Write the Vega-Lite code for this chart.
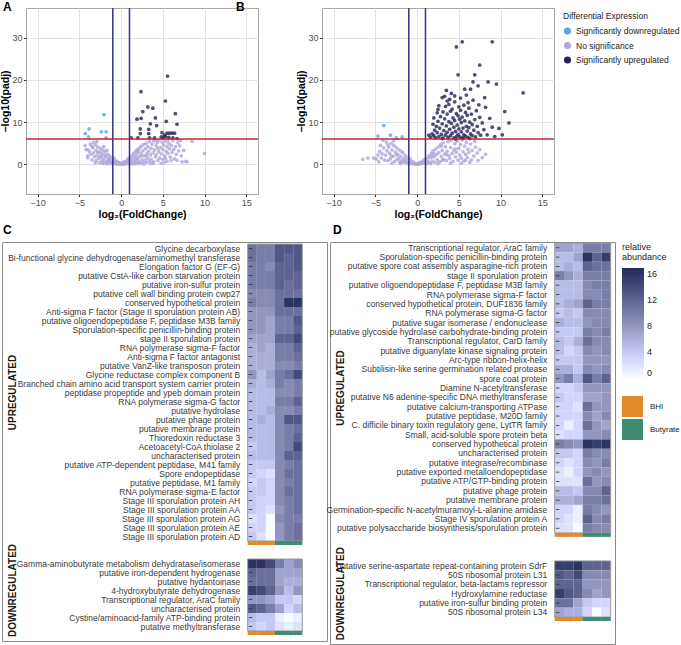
{
"$schema": "https://vega.github.io/schema/vega-lite/v6.json",
"background": "white",
"padding": {"left": 0, "top": 0, "right": 0, "bottom": 0},
"config": {
 "font": "Liberation Sans",
 "title": {"fontSize": 12, "fontWeight": "bold", "anchor": "start", "frame": "group", "offset": 4, "color": "#000"},
 "axis": {"labelFontSize": 9, "labelColor": "#4d4d4d", "titleFontSize": 10.5, "titleFontWeight": "bold", "titleColor": "#000", "tickColor": "#333", "tickSize": 3, "domain": false, "labelPadding": 2, "labelOverlap": false},
 "legend": {"titleFontWeight": "normal", "titleColor": "#222", "labelColor": "#222"}
},
"datasets": {
 "volA": [
  {"x":-0.9,"y":1.2,"g":"n"},{"x":-0.8,"y":0.5,"g":"n"},{"x":-0.7,"y":0.9,"g":"n"},{"x":-0.6,"y":0.3,"g":"n"},{"x":-0.5,"y":0.7,"g":"n"},{"x":-0.4,"y":0.2,"g":"n"},{"x":-0.3,"y":0.4,"g":"n"},{"x":-0.2,"y":0.1,"g":"n"},{"x":-0.1,"y":0.3,"g":"n"},{"x":0,"y":0.05,"g":"n"},{"x":0.1,"y":0.2,"g":"n"},{"x":0.2,"y":0.4,"g":"n"},{"x":0.3,"y":0.1,"g":"n"},{"x":0.4,"y":0.6,"g":"n"},{"x":0.5,"y":0.3,"g":"n"},{"x":0.6,"y":0.8,"g":"n"},{"x":0.7,"y":0.4,"g":"n"},{"x":0.8,"y":1.1,"g":"n"},{"x":0.9,"y":0.6,"g":"n"},{"x":-0.95,"y":0.2,"g":"n"},{"x":0.95,"y":0.15,"g":"n"},{"x":-0.55,"y":0.05,"g":"n"},{"x":0.55,"y":0.1,"g":"n"},{"x":0.25,"y":0.05,"g":"n"},{"x":-0.25,"y":0.08,"g":"n"},{"x":0.85,"y":1.4,"g":"n"},{"x":-0.85,"y":1.5,"g":"n"},
  {"x":-1.1,"y":0.4,"g":"n"},{"x":-1.2,"y":1.6,"g":"n"},{"x":-1.3,"y":0.9,"g":"n"},{"x":-1.4,"y":2.0,"g":"n"},{"x":-1.5,"y":0.3,"g":"n"},{"x":-1.5,"y":1.3,"g":"n"},{"x":-1.6,"y":2.4,"g":"n"},{"x":-1.7,"y":0.7,"g":"n"},{"x":-1.8,"y":1.8,"g":"n"},{"x":-1.9,"y":3.0,"g":"n"},{"x":-2.0,"y":0.5,"g":"n"},{"x":-2.0,"y":2.2,"g":"n"},{"x":-2.1,"y":1.2,"g":"n"},{"x":-2.2,"y":3.4,"g":"n"},{"x":-2.3,"y":0.8,"g":"n"},{"x":-2.3,"y":2.6,"g":"n"},{"x":-2.4,"y":1.7,"g":"n"},{"x":-2.5,"y":3.8,"g":"n"},{"x":-2.6,"y":0.4,"g":"n"},{"x":-2.6,"y":2.9,"g":"n"},{"x":-2.7,"y":1.4,"g":"n"},{"x":-2.8,"y":4.1,"g":"n"},{"x":-2.9,"y":2.1,"g":"n"},{"x":-3.0,"y":0.9,"g":"n"},{"x":-3.0,"y":3.3,"g":"n"},{"x":-3.1,"y":4.6,"g":"n"},{"x":-3.2,"y":1.8,"g":"n"},{"x":-3.3,"y":2.7,"g":"n"},{"x":-3.4,"y":3.9,"g":"n"},{"x":-3.5,"y":1.1,"g":"n"},{"x":-3.6,"y":2.4,"g":"n"},{"x":-3.7,"y":4.8,"g":"n"},{"x":-3.8,"y":3.0,"g":"n"},{"x":-4.0,"y":1.6,"g":"n"},{"x":-4.0,"y":3.5,"g":"n"},{"x":-4.2,"y":3.5,"g":"n"},{"x":-4.0,"y":2.0,"g":"n"},{"x":-3.1,"y":0.4,"g":"n"},{"x":-4.3,"y":4.5,"g":"n"},{"x":-1.25,"y":0.2,"g":"n"},{"x":-1.75,"y":0.15,"g":"n"},{"x":-2.2,"y":0.25,"g":"n"},{"x":-1.35,"y":1.1,"g":"n"},{"x":-1.6,"y":0.9,"g":"n"},{"x":-1.9,"y":2.0,"g":"n"},{"x":-2.45,"y":2.0,"g":"n"},{"x":-2.8,"y":2.8,"g":"n"},{"x":-3.3,"y":5.2,"g":"n"},{"x":-2.1,"y":4.2,"g":"n"},{"x":-1.7,"y":3.3,"g":"n"},{"x":-2.9,"y":5.4,"g":"n"},{"x":-3.5,"y":4.3,"g":"n"},
  {"x":1.1,"y":0.3,"g":"n"},{"x":1.1,"y":1.6,"g":"n"},{"x":1.2,"y":0.8,"g":"n"},{"x":1.3,"y":2.1,"g":"n"},{"x":1.3,"y":0.2,"g":"n"},{"x":1.4,"y":1.2,"g":"n"},{"x":1.5,"y":2.6,"g":"n"},{"x":1.5,"y":0.5,"g":"n"},{"x":1.6,"y":1.8,"g":"n"},{"x":1.7,"y":3.0,"g":"n"},{"x":1.7,"y":0.9,"g":"n"},{"x":1.8,"y":2.2,"g":"n"},{"x":1.9,"y":0.4,"g":"n"},{"x":1.9,"y":3.5,"g":"n"},{"x":2.0,"y":1.4,"g":"n"},{"x":2.0,"y":2.8,"g":"n"},{"x":2.1,"y":0.7,"g":"n"},{"x":2.2,"y":3.9,"g":"n"},{"x":2.2,"y":1.9,"g":"n"},{"x":2.3,"y":0.3,"g":"n"},{"x":2.4,"y":2.5,"g":"n"},{"x":2.4,"y":4.3,"g":"n"},{"x":2.5,"y":1.1,"g":"n"},{"x":2.6,"y":3.2,"g":"n"},{"x":2.6,"y":0.6,"g":"n"},{"x":2.7,"y":4.7,"g":"n"},{"x":2.8,"y":2.0,"g":"n"},{"x":2.9,"y":1.0,"g":"n"},{"x":2.9,"y":3.7,"g":"n"},{"x":3.0,"y":5.0,"g":"n"},{"x":3.0,"y":0.4,"g":"n"},{"x":3.1,"y":2.6,"g":"n"},{"x":3.2,"y":1.5,"g":"n"},{"x":3.2,"y":4.2,"g":"n"},{"x":3.3,"y":3.1,"g":"n"},{"x":3.4,"y":5.4,"g":"n"},{"x":3.4,"y":0.8,"g":"n"},{"x":3.5,"y":2.2,"g":"n"},{"x":3.6,"y":3.8,"g":"n"},{"x":3.6,"y":1.2,"g":"n"},{"x":3.7,"y":4.8,"g":"n"},{"x":3.8,"y":2.7,"g":"n"},{"x":3.9,"y":0.6,"g":"n"},{"x":3.9,"y":5.6,"g":"n"},{"x":4.0,"y":3.4,"g":"n"},{"x":4.1,"y":1.8,"g":"n"},{"x":4.2,"y":4.4,"g":"n"},{"x":4.2,"y":2.3,"g":"n"},{"x":4.3,"y":5.2,"g":"n"},{"x":4.4,"y":0.9,"g":"n"},{"x":4.5,"y":3.0,"g":"n"},{"x":4.5,"y":5.7,"g":"n"},{"x":4.6,"y":1.5,"g":"n"},{"x":4.7,"y":4.0,"g":"n"},{"x":4.8,"y":2.5,"g":"n"},{"x":4.9,"y":5.3,"g":"n"},{"x":5.0,"y":3.5,"g":"n"},{"x":5.0,"y":1.2,"g":"n"},{"x":5.1,"y":4.6,"g":"n"},{"x":5.2,"y":2.0,"g":"n"},{"x":5.3,"y":5.5,"g":"n"},{"x":5.4,"y":3.1,"g":"n"},{"x":5.5,"y":0.8,"g":"n"},{"x":5.5,"y":4.2,"g":"n"},{"x":5.6,"y":2.6,"g":"n"},{"x":5.7,"y":5.0,"g":"n"},{"x":5.8,"y":3.7,"g":"n"},{"x":5.9,"y":1.7,"g":"n"},{"x":6.0,"y":4.5,"g":"n"},{"x":6.1,"y":2.9,"g":"n"},{"x":6.2,"y":5.6,"g":"n"},{"x":6.3,"y":3.5,"g":"n"},{"x":6.4,"y":1.3,"g":"n"},{"x":6.5,"y":4.2,"g":"n"},{"x":6.6,"y":2.4,"g":"n"},{"x":6.8,"y":5.1,"g":"n"},{"x":6.9,"y":3.2,"g":"n"},{"x":7.0,"y":4.4,"g":"n"},{"x":7.2,"y":2.0,"g":"n"},{"x":7.3,"y":0.6,"g":"n"},{"x":7.5,"y":3.3,"g":"n"},{"x":7.9,"y":0.6,"g":"n"},{"x":8.5,"y":5.5,"g":"n"},{"x":10.0,"y":2.6,"g":"n"},{"x":7.7,"y":0.7,"g":"n"},{"x":6.0,"y":0.9,"g":"n"},{"x":5.2,"y":0.5,"g":"n"},{"x":3.5,"y":0.2,"g":"n"},{"x":2.7,"y":0.1,"g":"n"},{"x":4.8,"y":0.3,"g":"n"},{"x":1.6,"y":0.1,"g":"n"},{"x":2.0,"y":0.2,"g":"n"},{"x":6.7,"y":1.0,"g":"n"},{"x":7.1,"y":5.6,"g":"n"},{"x":5.6,"y":5.8,"g":"n"},{"x":4.1,"y":5.9,"g":"n"},{"x":3.0,"y":2.1,"g":"n"},{"x":2.5,"y":2.0,"g":"n"},{"x":1.8,"y":1.3,"g":"n"},{"x":2.1,"y":3.2,"g":"n"},{"x":3.8,"y":0.3,"g":"n"},{"x":4.4,"y":3.8,"g":"n"},{"x":5.3,"y":1.5,"g":"n"},
  {"x":-2.06,"y":11.8,"g":"d"},{"x":-3.85,"y":8.4,"g":"d"},{"x":-2.38,"y":7.7,"g":"d"},{"x":-1.8,"y":7.7,"g":"d"},{"x":-4.3,"y":7.3,"g":"d"},{"x":-3.9,"y":6.5,"g":"d"},{"x":-1.8,"y":6.3,"g":"d"},
  {"x":5.56,"y":20.9,"g":"u"},{"x":2.38,"y":17.2,"g":"u"},{"x":5.3,"y":15.0,"g":"u"},{"x":3.2,"y":13.6,"g":"u"},{"x":3.8,"y":13.3,"g":"u"},{"x":2.6,"y":12.5,"g":"u"},{"x":6.5,"y":12.0,"g":"u"},{"x":4.1,"y":11.0,"g":"u"},{"x":1.9,"y":10.7,"g":"u"},{"x":2.4,"y":10.9,"g":"u"},{"x":5.4,"y":10.2,"g":"u"},{"x":3.5,"y":9.6,"g":"u"},{"x":6.7,"y":9.5,"g":"u"},{"x":4.25,"y":9.2,"g":"u"},{"x":2.3,"y":8.4,"g":"u"},{"x":3.3,"y":8.3,"g":"u"},{"x":4.9,"y":7.5,"g":"u"},{"x":5.5,"y":7.4,"g":"u"},{"x":5.8,"y":7.4,"g":"u"},{"x":6.1,"y":7.4,"g":"u"},{"x":6.4,"y":7.4,"g":"u"},{"x":3.3,"y":7.3,"g":"u"},{"x":2.3,"y":7.3,"g":"u"},{"x":1.2,"y":6.3,"g":"u"},{"x":2.0,"y":6.3,"g":"u"},{"x":3.4,"y":6.3,"g":"u"},{"x":4.0,"y":6.3,"g":"u"},{"x":4.8,"y":6.5,"g":"u"},{"x":5.3,"y":6.6,"g":"u"},{"x":5.7,"y":6.4,"g":"u"},{"x":6.2,"y":6.3,"g":"u"},{"x":6.7,"y":6.1,"g":"u"},{"x":5.2,"y":6.9,"g":"u"},{"x":5.0,"y":6.2,"g":"u"}
 ],
 "volB": [
  {"x":-0.9,"y":1.1,"g":"n"},{"x":-0.8,"y":0.4,"g":"n"},{"x":-0.7,"y":0.8,"g":"n"},{"x":-0.6,"y":0.2,"g":"n"},{"x":-0.5,"y":0.6,"g":"n"},{"x":-0.4,"y":0.3,"g":"n"},{"x":-0.3,"y":0.1,"g":"n"},{"x":-0.2,"y":0.2,"g":"n"},{"x":-0.1,"y":0.05,"g":"n"},{"x":0,"y":0.1,"g":"n"},{"x":0.1,"y":0.05,"g":"n"},{"x":0.2,"y":0.3,"g":"n"},{"x":0.3,"y":0.15,"g":"n"},{"x":0.4,"y":0.5,"g":"n"},{"x":0.5,"y":0.2,"g":"n"},{"x":0.6,"y":0.7,"g":"n"},{"x":0.7,"y":0.3,"g":"n"},{"x":0.8,"y":1.0,"g":"n"},{"x":0.9,"y":0.5,"g":"n"},{"x":-0.95,"y":0.15,"g":"n"},{"x":0.95,"y":1.3,"g":"n"},{"x":-0.85,"y":1.4,"g":"n"},
  {"x":-1.1,"y":0.3,"g":"n"},{"x":-1.2,"y":1.5,"g":"n"},{"x":-1.3,"y":0.8,"g":"n"},{"x":-1.4,"y":2.1,"g":"n"},{"x":-1.5,"y":0.4,"g":"n"},{"x":-1.6,"y":1.4,"g":"n"},{"x":-1.7,"y":2.7,"g":"n"},{"x":-1.8,"y":0.9,"g":"n"},{"x":-1.9,"y":3.1,"g":"n"},{"x":-2.0,"y":1.9,"g":"n"},{"x":-2.1,"y":0.6,"g":"n"},{"x":-2.2,"y":3.5,"g":"n"},{"x":-2.3,"y":2.4,"g":"n"},{"x":-2.4,"y":1.2,"g":"n"},{"x":-2.5,"y":4.0,"g":"n"},{"x":-2.6,"y":2.9,"g":"n"},{"x":-2.7,"y":0.7,"g":"n"},{"x":-2.8,"y":4.5,"g":"n"},{"x":-2.9,"y":1.9,"g":"n"},{"x":-3.0,"y":3.4,"g":"n"},{"x":-3.1,"y":5.0,"g":"n"},{"x":-3.2,"y":1.3,"g":"n"},{"x":-3.3,"y":2.6,"g":"n"},{"x":-3.4,"y":4.1,"g":"n"},{"x":-3.5,"y":0.9,"g":"n"},{"x":-3.6,"y":3.2,"g":"n"},{"x":-3.7,"y":5.3,"g":"n"},{"x":-3.8,"y":2.2,"g":"n"},{"x":-3.9,"y":1.0,"g":"n"},{"x":-4.0,"y":3.9,"g":"n"},{"x":-4.1,"y":5.7,"g":"n"},{"x":-4.2,"y":2.5,"g":"n"},{"x":-4.3,"y":1.5,"g":"n"},{"x":-4.5,"y":3.1,"g":"n"},{"x":-4.7,"y":2.2,"g":"n"},{"x":-4.9,"y":1.3,"g":"n"},{"x":-5.2,"y":1.5,"g":"n"},{"x":-5.9,"y":1.5,"g":"n"},{"x":-6.5,"y":1.2,"g":"n"},{"x":-4.6,"y":0.6,"g":"n"},{"x":-2.0,"y":0.2,"g":"n"},{"x":-3.0,"y":0.3,"g":"n"},{"x":-1.5,"y":1.0,"g":"n"},{"x":-2.5,"y":2.2,"g":"n"},{"x":-3.5,"y":4.6,"g":"n"},{"x":-2.8,"y":5.6,"g":"n"},{"x":-4.4,"y":4.5,"g":"n"},{"x":-1.9,"y":0.5,"g":"n"},{"x":-2.2,"y":1.4,"g":"n"},{"x":-3.1,"y":2.0,"g":"n"},
  {"x":1.1,"y":0.2,"g":"n"},{"x":1.2,"y":1.4,"g":"n"},{"x":1.3,"y":0.7,"g":"n"},{"x":1.4,"y":2.0,"g":"n"},{"x":1.5,"y":0.4,"g":"n"},{"x":1.6,"y":1.6,"g":"n"},{"x":1.7,"y":2.6,"g":"n"},{"x":1.8,"y":0.8,"g":"n"},{"x":1.9,"y":3.2,"g":"n"},{"x":2.0,"y":1.8,"g":"n"},{"x":2.1,"y":0.5,"g":"n"},{"x":2.2,"y":3.6,"g":"n"},{"x":2.3,"y":2.3,"g":"n"},{"x":2.4,"y":1.1,"g":"n"},{"x":2.5,"y":4.1,"g":"n"},{"x":2.6,"y":2.8,"g":"n"},{"x":2.7,"y":0.6,"g":"n"},{"x":2.8,"y":4.6,"g":"n"},{"x":2.9,"y":1.9,"g":"n"},{"x":3.0,"y":3.3,"g":"n"},{"x":3.1,"y":5.1,"g":"n"},{"x":3.2,"y":1.2,"g":"n"},{"x":3.3,"y":2.5,"g":"n"},{"x":3.4,"y":4.2,"g":"n"},{"x":3.5,"y":0.9,"g":"n"},{"x":3.6,"y":3.1,"g":"n"},{"x":3.7,"y":5.4,"g":"n"},{"x":3.8,"y":2.1,"g":"n"},{"x":3.9,"y":1.4,"g":"n"},{"x":4.0,"y":4.0,"g":"n"},{"x":4.1,"y":5.7,"g":"n"},{"x":4.2,"y":2.6,"g":"n"},{"x":4.3,"y":0.7,"g":"n"},{"x":4.4,"y":3.4,"g":"n"},{"x":4.5,"y":4.9,"g":"n"},{"x":4.6,"y":1.8,"g":"n"},{"x":4.7,"y":2.9,"g":"n"},{"x":4.8,"y":5.5,"g":"n"},{"x":4.9,"y":1.0,"g":"n"},{"x":5.0,"y":3.8,"g":"n"},{"x":5.1,"y":2.2,"g":"n"},{"x":5.2,"y":4.7,"g":"n"},{"x":5.3,"y":1.5,"g":"n"},{"x":5.4,"y":5.8,"g":"n"},{"x":5.5,"y":3.0,"g":"n"},{"x":5.6,"y":0.8,"g":"n"},{"x":5.7,"y":4.3,"g":"n"},{"x":5.8,"y":2.4,"g":"n"},{"x":5.9,"y":5.2,"g":"n"},{"x":6.0,"y":1.6,"g":"n"},{"x":6.1,"y":3.6,"g":"n"},{"x":6.2,"y":2.8,"g":"n"},{"x":6.4,"y":4.8,"g":"n"},{"x":6.5,"y":1.1,"g":"n"},{"x":6.6,"y":3.3,"g":"n"},{"x":6.8,"y":2.0,"g":"n"},{"x":7.0,"y":4.1,"g":"n"},{"x":7.2,"y":2.7,"g":"n"},{"x":7.5,"y":3.5,"g":"n"},{"x":7.8,"y":1.6,"g":"n"},{"x":8.2,"y":2.4,"g":"n"},{"x":6.9,"y":5.5,"g":"n"},{"x":5.3,"y":0.3,"g":"n"},{"x":4.0,"y":0.3,"g":"n"},{"x":2.5,"y":0.2,"g":"n"},{"x":3.5,"y":2.3,"g":"n"},{"x":2.0,"y":2.6,"g":"n"},{"x":1.6,"y":0.2,"g":"n"},{"x":3.0,"y":1.0,"g":"n"},{"x":4.6,"y":3.7,"g":"n"},{"x":5.8,"y":1.0,"g":"n"},{"x":7.3,"y":0.9,"g":"n"},{"x":6.3,"y":0.5,"g":"n"},{"x":2.9,"y":4.3,"g":"n"},{"x":3.8,"y":5.9,"g":"n"},{"x":1.8,"y":2.0,"g":"n"},
  {"x":-4.0,"y":9.2,"g":"d"},{"x":-4.7,"y":6.7,"g":"d"},{"x":-3.2,"y":6.9,"g":"d"},{"x":-2.5,"y":6.3,"g":"d"},{"x":-1.8,"y":6.5,"g":"d"},
  {"x":5.4,"y":29.0,"g":"u"},{"x":9.0,"y":29.0,"g":"u"},{"x":4.7,"y":27.8,"g":"u"},{"x":7.5,"y":23.5,"g":"u"},{"x":4.9,"y":21.2,"g":"u"},{"x":6.9,"y":21.2,"g":"u"},{"x":6.7,"y":19.5,"g":"u"},{"x":8.5,"y":19.5,"g":"u"},{"x":9.5,"y":19.0,"g":"u"},{"x":7.3,"y":18.6,"g":"u"},{"x":6.4,"y":17.8,"g":"u"},{"x":5.7,"y":17.8,"g":"u"},{"x":3.5,"y":17.5,"g":"u"},{"x":12.7,"y":16.9,"g":"u"},{"x":4.5,"y":16.2,"g":"u"},{"x":8.1,"y":15.8,"g":"u"},{"x":3.0,"y":15.8,"g":"u"},{"x":3.6,"y":15.0,"g":"u"},{"x":2.5,"y":13.0,"g":"u"},{"x":10.5,"y":12.5,"g":"u"},{"x":11.0,"y":9.8,"g":"u"},{"x":9.8,"y":8.5,"g":"u"},{"x":10.2,"y":7.0,"g":"u"},
  {"x":1.6,"y":6.4,"g":"u"},{"x":1.8,"y":7.2,"g":"u"},{"x":2.0,"y":6.8,"g":"u"},{"x":2.1,"y":8.1,"g":"u"},{"x":2.2,"y":6.3,"g":"u"},{"x":2.3,"y":9.0,"g":"u"},{"x":2.4,"y":7.5,"g":"u"},{"x":2.5,"y":10.2,"g":"u"},{"x":2.6,"y":6.6,"g":"u"},{"x":2.7,"y":8.6,"g":"u"},{"x":2.8,"y":11.3,"g":"u"},{"x":2.9,"y":7.1,"g":"u"},{"x":3.0,"y":9.6,"g":"u"},{"x":3.1,"y":6.2,"g":"u"},{"x":3.1,"y":12.4,"g":"u"},{"x":3.2,"y":8.0,"g":"u"},{"x":3.3,"y":10.8,"g":"u"},{"x":3.4,"y":6.9,"g":"u"},{"x":3.4,"y":13.7,"g":"u"},{"x":3.5,"y":9.1,"g":"u"},{"x":3.6,"y":7.6,"g":"u"},{"x":3.6,"y":11.9,"g":"u"},{"x":3.7,"y":6.4,"g":"u"},{"x":3.8,"y":10.1,"g":"u"},{"x":3.8,"y":14.2,"g":"u"},{"x":3.9,"y":8.3,"g":"u"},{"x":4.0,"y":12.6,"g":"u"},{"x":4.0,"y":6.8,"g":"u"},{"x":4.1,"y":9.7,"g":"u"},{"x":4.2,"y":7.4,"g":"u"},{"x":4.2,"y":13.1,"g":"u"},{"x":4.3,"y":11.0,"g":"u"},{"x":4.4,"y":6.3,"g":"u"},{"x":4.4,"y":8.8,"g":"u"},{"x":4.5,"y":10.4,"g":"u"},{"x":4.5,"y":14.8,"g":"u"},{"x":4.6,"y":7.8,"g":"u"},{"x":4.7,"y":12.0,"g":"u"},{"x":4.7,"y":6.6,"g":"u"},{"x":4.8,"y":9.3,"g":"u"},{"x":4.9,"y":11.5,"g":"u"},{"x":4.9,"y":7.1,"g":"u"},{"x":5.0,"y":13.6,"g":"u"},{"x":5.0,"y":8.4,"g":"u"},{"x":5.1,"y":6.5,"g":"u"},{"x":5.1,"y":10.7,"g":"u"},{"x":5.2,"y":12.8,"g":"u"},{"x":5.3,"y":7.7,"g":"u"},{"x":5.3,"y":9.9,"g":"u"},{"x":5.4,"y":6.2,"g":"u"},{"x":5.4,"y":11.2,"g":"u"},{"x":5.5,"y":8.6,"g":"u"},{"x":5.6,"y":14.0,"g":"u"},{"x":5.6,"y":7.0,"g":"u"},{"x":5.7,"y":10.3,"g":"u"},{"x":5.8,"y":6.7,"g":"u"},{"x":5.8,"y":12.3,"g":"u"},{"x":5.9,"y":9.0,"g":"u"},{"x":6.0,"y":7.9,"g":"u"},{"x":6.0,"y":11.6,"g":"u"},{"x":6.1,"y":6.4,"g":"u"},{"x":6.2,"y":13.3,"g":"u"},{"x":6.2,"y":8.7,"g":"u"},{"x":6.3,"y":10.0,"g":"u"},{"x":6.4,"y":7.2,"g":"u"},{"x":6.5,"y":11.9,"g":"u"},{"x":6.6,"y":6.8,"g":"u"},{"x":6.6,"y":9.4,"g":"u"},{"x":6.7,"y":15.2,"g":"u"},{"x":6.8,"y":8.1,"g":"u"},{"x":6.9,"y":10.6,"g":"u"},{"x":7.0,"y":6.5,"g":"u"},{"x":7.1,"y":12.7,"g":"u"},{"x":7.2,"y":9.0,"g":"u"},{"x":7.3,"y":7.5,"g":"u"},{"x":7.5,"y":11.1,"g":"u"},{"x":7.6,"y":6.9,"g":"u"},{"x":7.8,"y":9.8,"g":"u"},{"x":8.0,"y":8.2,"g":"u"},{"x":8.2,"y":13.5,"g":"u"},{"x":8.4,"y":7.0,"g":"u"},{"x":8.7,"y":10.9,"g":"u"},{"x":9.0,"y":8.8,"g":"u"},{"x":9.3,"y":6.6,"g":"u"},{"x":2.0,"y":11.0,"g":"u"},{"x":2.6,"y":13.9,"g":"u"},{"x":3.3,"y":16.1,"g":"u"},{"x":4.1,"y":16.8,"g":"u"},{"x":5.2,"y":15.7,"g":"u"},{"x":5.9,"y":16.4,"g":"u"},{"x":6.1,"y":14.6,"g":"u"},{"x":7.4,"y":14.1,"g":"u"},{"x":1.9,"y":9.5,"g":"u"},{"x":2.4,"y":12.2,"g":"u"},{"x":1.4,"y":6.9,"g":"u"},{"x":3.0,"y":6.1,"g":"u"},{"x":4.6,"y":6.0,"g":"u"},{"x":5.5,"y":6.2,"g":"u"},{"x":6.3,"y":6.1,"g":"u"},{"x":3.9,"y":15.4,"g":"u"}
 ],
 "bars": [
  {"r":"ub","s":"a1","c":"BHI"},{"r":"ub","s":"a2","c":"BHI"},{"r":"ub","s":"a3","c":"BHI"},{"r":"ub","s":"b1","c":"Butyrate"},{"r":"ub","s":"b2","c":"Butyrate"},{"r":"ub","s":"b3","c":"Butyrate"},
  {"r":"db","s":"a1","c":"BHI"},{"r":"db","s":"a2","c":"BHI"},{"r":"db","s":"a3","c":"BHI"},{"r":"db","s":"b1","c":"Butyrate"},{"r":"db","s":"b2","c":"Butyrate"},{"r":"db","s":"b3","c":"Butyrate"}
 ],
 "lC": [
  {"r":"u01","p":"Glycine decarboxylase"},{"r":"u02","p":"Bi-functional glycine dehydrogenase/aminomethyl transferase"},{"r":"u03","p":"Elongation factor G (EF-G)"},{"r":"u04","p":"putative CstA-like carbon starvation protein"},{"r":"u05","p":"putative iron-sulfur protein"},{"r":"u06","p":"putative cell wall binding protein cwp27"},{"r":"u07","p":"conserved hypothetical protein"},{"r":"u08","p":"Anti-sigma F factor (Stage II sporulation protein AB)"},{"r":"u09","p":"putative oligoendopeptidase F, peptidase M3B family"},{"r":"u10","p":"Sporulation-specific penicillin-binding protein"},{"r":"u11","p":"stage II sporulation protein"},{"r":"u12","p":"RNA polymerase sigma-F factor"},{"r":"u13","p":"Anti-sigma F factor antagonist"},{"r":"u14","p":"putative VanZ-like transposon protein"},{"r":"u15","p":"Glycine reductase complex component B"},{"r":"u16","p":"Branched chain amino acid transport system carrier protein"},{"r":"u17","p":"peptidase propeptide and ypeb domain protein"},{"r":"u18","p":"RNA polymerase sigma-G factor"},{"r":"u19","p":"putative hydrolase"},{"r":"u20","p":"putative phage protein"},{"r":"u21","p":"putative membrane protein"},{"r":"u22","p":"Thioredoxin reductase 3"},{"r":"u23","p":"Acetoacetyl-CoA thiolase 2"},{"r":"u24","p":"uncharacterised protein"},{"r":"u25","p":"putative ATP-dependent peptidase, M41 family"},{"r":"u26","p":"Spore endopeptidase"},{"r":"u27","p":"putative peptidase, M1 family"},{"r":"u28","p":"RNA polymerase sigma-E factor"},{"r":"u29","p":"Stage III sporulation protein AH"},{"r":"u30","p":"Stage III sporulation protein AA"},{"r":"u31","p":"Stage III sporulation protein AG"},{"r":"u32","p":"Stage III sporulation protein AE"},{"r":"u33","p":"Stage III sporulation protein AD"},
  {"r":"d01","p":"Gamma-aminobutyrate metabolism dehydratase/isomerase"},{"r":"d02","p":"putative iron-dependent hydrogenase"},{"r":"d03","p":"putative hydantoinase"},{"r":"d04","p":"4-hydroxybutyrate dehydrogenase"},{"r":"d05","p":"Transcriptional regulator, AraC family"},{"r":"d06","p":"uncharacterised protein"},{"r":"d07","p":"Cystine/aminoacid-family ATP-binding protein"},{"r":"d08","p":"putative methyltransferase"}
 ],
 "lD": [
  {"r":"u01","p":"Transcriptional regulator, AraC family"},{"r":"u02","p":"Sporulation-specific penicillin-binding protein"},{"r":"u03","p":"putative spore coat assembly asparagine-rich protein"},{"r":"u04","p":"stage II sporulation protein"},{"r":"u05","p":"putative oligoendopeptidase F, peptidase M3B family"},{"r":"u06","p":"RNA polymerase sigma-F factor"},{"r":"u07","p":"conserved hypothetical protein, DUF1836 family"},{"r":"u08","p":"RNA polymerase sigma-G factor"},{"r":"u09","p":"putative sugar isomerase / endonuclease"},{"r":"u10","p":"putative glycoside hydrolase carbohydrate-binding protein"},{"r":"u11","p":"Transcriptional regulator, CarD family"},{"r":"u12","p":"putative diguanylate kinase signaling protein"},{"r":"u13","p":"Arc-type ribbon-helix-helix"},{"r":"u14","p":"Subtilisin-like serine germination related protease"},{"r":"u15","p":"spore coat protein"},{"r":"u16","p":"Diamine N-acetyltransferase"},{"r":"u17","p":"putative N6 adenine-specific DNA methyltransferase"},{"r":"u18","p":"putative calcium-transporting ATPase"},{"r":"u19","p":"putative peptidase, M20D family"},{"r":"u20","p":"C. difficile binary toxin regulatory gene, LytTR family"},{"r":"u21","p":"Small, acid-soluble spore protein beta"},{"r":"u22","p":"conserved hypothetical protein"},{"r":"u23","p":"uncharacterised protein"},{"r":"u24","p":"putative integrase/recombinase"},{"r":"u25","p":"putative exported metalloendopeptidase"},{"r":"u26","p":"putative ATP/GTP-binding protein"},{"r":"u27","p":"putative phage protein"},{"r":"u28","p":"putative membrane protein"},{"r":"u29","p":"Germination-specific N-acetylmuramoyl-L-alanine amidase"},{"r":"u30","p":"Stage IV sporulation protein A"},{"r":"u31","p":"putative polysaccharide biosynthesis/sporulation protein"},
  {"r":"d01","p":"putative serine-aspartate repeat-containing protein SdrF"},{"r":"d02","p":"50S ribosomal protein L31"},{"r":"d03","p":"Transcriptional regulator, beta-lactams repressor"},{"r":"d04","p":"Hydroxylamine reductase"},{"r":"d05","p":"putative iron-sulfur binding protein"},{"r":"d06","p":"50S ribosomal protein L34"}
 ],
 "hC": [
  {"r":"u01","s":"a1","v":11},{"r":"u01","s":"a2","v":10},{"r":"u01","s":"a3","v":10},{"r":"u01","s":"b1","v":13},{"r":"u01","s":"b2","v":13},{"r":"u01","s":"b3","v":13},
  {"r":"u02","s":"a1","v":11},{"r":"u02","s":"a2","v":10},{"r":"u02","s":"a3","v":10},{"r":"u02","s":"b1","v":13},{"r":"u02","s":"b2","v":12},{"r":"u02","s":"b3","v":13},
  {"r":"u03","s":"a1","v":10},{"r":"u03","s":"a2","v":10},{"r":"u03","s":"a3","v":9},{"r":"u03","s":"b1","v":12},{"r":"u03","s":"b2","v":12},{"r":"u03","s":"b3","v":13},
  {"r":"u04","s":"a1","v":10},{"r":"u04","s":"a2","v":10},{"r":"u04","s":"a3","v":10},{"r":"u04","s":"b1","v":12},{"r":"u04","s":"b2","v":12},{"r":"u04","s":"b3","v":12},
  {"r":"u05","s":"a1","v":10},{"r":"u05","s":"a2","v":10},{"r":"u05","s":"a3","v":10},{"r":"u05","s":"b1","v":12},{"r":"u05","s":"b2","v":11},{"r":"u05","s":"b3","v":12},
  {"r":"u06","s":"a1","v":9},{"r":"u06","s":"a2","v":9},{"r":"u06","s":"a3","v":9},{"r":"u06","s":"b1","v":11},{"r":"u06","s":"b2","v":11},{"r":"u06","s":"b3","v":11},
  {"r":"u07","s":"a1","v":10},{"r":"u07","s":"a2","v":9},{"r":"u07","s":"a3","v":9},{"r":"u07","s":"b1","v":11},{"r":"u07","s":"b2","v":16},{"r":"u07","s":"b3","v":16},
  {"r":"u08","s":"a1","v":8},{"r":"u08","s":"a2","v":8},{"r":"u08","s":"a3","v":8},{"r":"u08","s":"b1","v":11},{"r":"u08","s":"b2","v":11},{"r":"u08","s":"b3","v":11},
  {"r":"u09","s":"a1","v":8},{"r":"u09","s":"a2","v":8},{"r":"u09","s":"a3","v":7},{"r":"u09","s":"b1","v":10},{"r":"u09","s":"b2","v":10},{"r":"u09","s":"b3","v":13},
  {"r":"u10","s":"a1","v":8},{"r":"u10","s":"a2","v":8},{"r":"u10","s":"a3","v":7},{"r":"u10","s":"b1","v":10},{"r":"u10","s":"b2","v":10},{"r":"u10","s":"b3","v":12},
  {"r":"u11","s":"a1","v":7},{"r":"u11","s":"a2","v":7},{"r":"u11","s":"a3","v":7},{"r":"u11","s":"b1","v":12},{"r":"u11","s":"b2","v":12},{"r":"u11","s":"b3","v":14},
  {"r":"u12","s":"a1","v":6},{"r":"u12","s":"a2","v":7},{"r":"u12","s":"a3","v":6},{"r":"u12","s":"b1","v":10},{"r":"u12","s":"b2","v":10},{"r":"u12","s":"b3","v":12},
  {"r":"u13","s":"a1","v":6},{"r":"u13","s":"a2","v":6},{"r":"u13","s":"a3","v":6},{"r":"u13","s":"b1","v":10},{"r":"u13","s":"b2","v":10},{"r":"u13","s":"b3","v":11},
  {"r":"u14","s":"a1","v":6},{"r":"u14","s":"a2","v":6},{"r":"u14","s":"a3","v":6},{"r":"u14","s":"b1","v":9},{"r":"u14","s":"b2","v":9},{"r":"u14","s":"b3","v":10},
  {"r":"u15","s":"a1","v":8},{"r":"u15","s":"a2","v":5},{"r":"u15","s":"a3","v":7},{"r":"u15","s":"b1","v":10},{"r":"u15","s":"b2","v":11},{"r":"u15","s":"b3","v":14},
  {"r":"u16","s":"a1","v":6},{"r":"u16","s":"a2","v":5},{"r":"u16","s":"a3","v":6},{"r":"u16","s":"b1","v":10},{"r":"u16","s":"b2","v":9},{"r":"u16","s":"b3","v":10},
  {"r":"u17","s":"a1","v":5},{"r":"u17","s":"a2","v":5},{"r":"u17","s":"a3","v":5},{"r":"u17","s":"b1","v":9},{"r":"u17","s":"b2","v":9},{"r":"u17","s":"b3","v":10},
  {"r":"u18","s":"a1","v":5},{"r":"u18","s":"a2","v":5},{"r":"u18","s":"a3","v":5},{"r":"u18","s":"b1","v":10},{"r":"u18","s":"b2","v":10},{"r":"u18","s":"b3","v":12},
  {"r":"u19","s":"a1","v":5},{"r":"u19","s":"a2","v":5},{"r":"u19","s":"a3","v":6},{"r":"u19","s":"b1","v":9},{"r":"u19","s":"b2","v":9},{"r":"u19","s":"b3","v":10},
  {"r":"u20","s":"a1","v":5},{"r":"u20","s":"a2","v":6},{"r":"u20","s":"a3","v":5},{"r":"u20","s":"b1","v":9},{"r":"u20","s":"b2","v":13},{"r":"u20","s":"b3","v":13},
  {"r":"u21","s":"a1","v":5},{"r":"u21","s":"a2","v":5},{"r":"u21","s":"a3","v":5},{"r":"u21","s":"b1","v":9},{"r":"u21","s":"b2","v":10},{"r":"u21","s":"b3","v":11},
  {"r":"u22","s":"a1","v":5},{"r":"u22","s":"a2","v":5},{"r":"u22","s":"a3","v":5},{"r":"u22","s":"b1","v":9},{"r":"u22","s":"b2","v":10},{"r":"u22","s":"b3","v":12},
  {"r":"u23","s":"a1","v":4},{"r":"u23","s":"a2","v":5},{"r":"u23","s":"a3","v":5},{"r":"u23","s":"b1","v":9},{"r":"u23","s":"b2","v":10},{"r":"u23","s":"b3","v":14},
  {"r":"u24","s":"a1","v":5},{"r":"u24","s":"a2","v":5},{"r":"u24","s":"a3","v":5},{"r":"u24","s":"b1","v":9},{"r":"u24","s":"b2","v":12},{"r":"u24","s":"b3","v":12},
  {"r":"u25","s":"a1","v":4},{"r":"u25","s":"a2","v":4},{"r":"u25","s":"a3","v":4},{"r":"u25","s":"b1","v":9},{"r":"u25","s":"b2","v":10},{"r":"u25","s":"b3","v":11},
  {"r":"u26","s":"a1","v":4},{"r":"u26","s":"a2","v":3},{"r":"u26","s":"a3","v":2},{"r":"u26","s":"b1","v":9},{"r":"u26","s":"b2","v":11},{"r":"u26","s":"b3","v":11},
  {"r":"u27","s":"a1","v":3},{"r":"u27","s":"a2","v":4},{"r":"u27","s":"a3","v":3},{"r":"u27","s":"b1","v":9},{"r":"u27","s":"b2","v":10},{"r":"u27","s":"b3","v":11},
  {"r":"u28","s":"a1","v":4},{"r":"u28","s":"a2","v":4},{"r":"u28","s":"a3","v":3},{"r":"u28","s":"b1","v":9},{"r":"u28","s":"b2","v":11},{"r":"u28","s":"b3","v":11},
  {"r":"u29","s":"a1","v":4},{"r":"u29","s":"a2","v":3},{"r":"u29","s":"a3","v":3},{"r":"u29","s":"b1","v":9},{"r":"u29","s":"b2","v":10},{"r":"u29","s":"b3","v":11},
  {"r":"u30","s":"a1","v":4},{"r":"u30","s":"a2","v":3},{"r":"u30","s":"a3","v":2},{"r":"u30","s":"b1","v":8},{"r":"u30","s":"b2","v":10},{"r":"u30","s":"b3","v":11},
  {"r":"u31","s":"a1","v":2},{"r":"u31","s":"a2","v":3},{"r":"u31","s":"a3","v":0},{"r":"u31","s":"b1","v":9},{"r":"u31","s":"b2","v":10},{"r":"u31","s":"b3","v":10},
  {"r":"u32","s":"a1","v":3},{"r":"u32","s":"a2","v":3},{"r":"u32","s":"a3","v":0},{"r":"u32","s":"b1","v":8},{"r":"u32","s":"b2","v":10},{"r":"u32","s":"b3","v":11},
  {"r":"u33","s":"a1","v":4},{"r":"u33","s":"a2","v":2},{"r":"u33","s":"a3","v":0},{"r":"u33","s":"b1","v":8},{"r":"u33","s":"b2","v":10},{"r":"u33","s":"b3","v":11},
  {"r":"d01","s":"a1","v":16},{"r":"d01","s":"a2","v":16},{"r":"d01","s":"a3","v":14},{"r":"d01","s":"b1","v":10},{"r":"d01","s":"b2","v":7},{"r":"d01","s":"b3","v":9},
  {"r":"d02","s":"a1","v":12},{"r":"d02","s":"a2","v":11},{"r":"d02","s":"a3","v":11},{"r":"d02","s":"b1","v":7},{"r":"d02","s":"b2","v":7},{"r":"d02","s":"b3","v":7},
  {"r":"d03","s":"a1","v":11},{"r":"d03","s":"a2","v":11},{"r":"d03","s":"a3","v":11},{"r":"d03","s":"b1","v":7},{"r":"d03","s":"b2","v":6},{"r":"d03","s":"b3","v":6},
  {"r":"d04","s":"a1","v":15},{"r":"d04","s":"a2","v":14},{"r":"d04","s":"a3","v":12},{"r":"d04","s":"b1","v":8},{"r":"d04","s":"b2","v":5},{"r":"d04","s":"b3","v":8},
  {"r":"d05","s":"a1","v":8},{"r":"d05","s":"a2","v":8},{"r":"d05","s":"a3","v":7},{"r":"d05","s":"b1","v":4},{"r":"d05","s":"b2","v":4},{"r":"d05","s":"b3","v":3},
  {"r":"d06","s":"a1","v":13},{"r":"d06","s":"a2","v":12},{"r":"d06","s":"a3","v":10},{"r":"d06","s":"b1","v":7},{"r":"d06","s":"b2","v":3},{"r":"d06","s":"b3","v":5},
  {"r":"d07","s":"a1","v":5},{"r":"d07","s":"a2","v":4},{"r":"d07","s":"a3","v":4},{"r":"d07","s":"b1","v":1},{"r":"d07","s":"b2","v":0},{"r":"d07","s":"b3","v":1},
  {"r":"d08","s":"a1","v":4},{"r":"d08","s":"a2","v":3},{"r":"d08","s":"a3","v":4},{"r":"d08","s":"b1","v":2},{"r":"d08","s":"b2","v":1},{"r":"d08","s":"b3","v":2}
 ],
 "hD": [
  {"r":"u01","s":"a1","v":7},{"r":"u01","s":"a2","v":7},{"r":"u01","s":"a3","v":6},{"r":"u01","s":"b1","v":10},{"r":"u01","s":"b2","v":10},{"r":"u01","s":"b3","v":10},
  {"r":"u02","s":"a1","v":5},{"r":"u02","s":"a2","v":5},{"r":"u02","s":"a3","v":7},{"r":"u02","s":"b1","v":16},{"r":"u02","s":"b2","v":12},{"r":"u02","s":"b3","v":15},
  {"r":"u03","s":"a1","v":5},{"r":"u03","s":"a2","v":6},{"r":"u03","s":"a3","v":5},{"r":"u03","s":"b1","v":12},{"r":"u03","s":"b2","v":11},{"r":"u03","s":"b3","v":11},
  {"r":"u04","s":"a1","v":10},{"r":"u04","s":"a2","v":8},{"r":"u04","s":"a3","v":6},{"r":"u04","s":"b1","v":10},{"r":"u04","s":"b2","v":10},{"r":"u04","s":"b3","v":10},
  {"r":"u05","s":"a1","v":5},{"r":"u05","s":"a2","v":5},{"r":"u05","s":"a3","v":5},{"r":"u05","s":"b1","v":9},{"r":"u05","s":"b2","v":10},{"r":"u05","s":"b3","v":10},
  {"r":"u06","s":"a1","v":5},{"r":"u06","s":"a2","v":5},{"r":"u06","s":"a3","v":5},{"r":"u06","s":"b1","v":9},{"r":"u06","s":"b2","v":9},{"r":"u06","s":"b3","v":10},
  {"r":"u07","s":"a1","v":5},{"r":"u07","s":"a2","v":6},{"r":"u07","s":"a3","v":7},{"r":"u07","s":"b1","v":12},{"r":"u07","s":"b2","v":10},{"r":"u07","s":"b3","v":10},
  {"r":"u08","s":"a1","v":4},{"r":"u08","s":"a2","v":5},{"r":"u08","s":"a3","v":4},{"r":"u08","s":"b1","v":9},{"r":"u08","s":"b2","v":9},{"r":"u08","s":"b3","v":9},
  {"r":"u09","s":"a1","v":6},{"r":"u09","s":"a2","v":5},{"r":"u09","s":"a3","v":5},{"r":"u09","s":"b1","v":8},{"r":"u09","s":"b2","v":9},{"r":"u09","s":"b3","v":9},
  {"r":"u10","s":"a1","v":4},{"r":"u10","s":"a2","v":4},{"r":"u10","s":"a3","v":4},{"r":"u10","s":"b1","v":10},{"r":"u10","s":"b2","v":9},{"r":"u10","s":"b3","v":10},
  {"r":"u11","s":"a1","v":5},{"r":"u11","s":"a2","v":4},{"r":"u11","s":"a3","v":6},{"r":"u11","s":"b1","v":11},{"r":"u11","s":"b2","v":9},{"r":"u11","s":"b3","v":9},
  {"r":"u12","s":"a1","v":5},{"r":"u12","s":"a2","v":3},{"r":"u12","s":"a3","v":4},{"r":"u12","s":"b1","v":9},{"r":"u12","s":"b2","v":8},{"r":"u12","s":"b3","v":9},
  {"r":"u13","s":"a1","v":4},{"r":"u13","s":"a2","v":4},{"r":"u13","s":"a3","v":4},{"r":"u13","s":"b1","v":8},{"r":"u13","s":"b2","v":8},{"r":"u13","s":"b3","v":8},
  {"r":"u14","s":"a1","v":6},{"r":"u14","s":"a2","v":6},{"r":"u14","s":"a3","v":4},{"r":"u14","s":"b1","v":9},{"r":"u14","s":"b2","v":8},{"r":"u14","s":"b3","v":9},
  {"r":"u15","s":"a1","v":8},{"r":"u15","s":"a2","v":10},{"r":"u15","s":"a3","v":6},{"r":"u15","s":"b1","v":13},{"r":"u15","s":"b2","v":10},{"r":"u15","s":"b3","v":12},
  {"r":"u16","s":"a1","v":3},{"r":"u16","s":"a2","v":3},{"r":"u16","s":"a3","v":4},{"r":"u16","s":"b1","v":8},{"r":"u16","s":"b2","v":8},{"r":"u16","s":"b3","v":8},
  {"r":"u17","s":"a1","v":4},{"r":"u17","s":"a2","v":3},{"r":"u17","s":"a3","v":3},{"r":"u17","s":"b1","v":7},{"r":"u17","s":"b2","v":7},{"r":"u17","s":"b3","v":8},
  {"r":"u18","s":"a1","v":3},{"r":"u18","s":"a2","v":3},{"r":"u18","s":"a3","v":2},{"r":"u18","s":"b1","v":11},{"r":"u18","s":"b2","v":8},{"r":"u18","s":"b3","v":8},
  {"r":"u19","s":"a1","v":3},{"r":"u19","s":"a2","v":3},{"r":"u19","s":"a3","v":3},{"r":"u19","s":"b1","v":9},{"r":"u19","s":"b2","v":7},{"r":"u19","s":"b3","v":9},
  {"r":"u20","s":"a1","v":3},{"r":"u20","s":"a2","v":1},{"r":"u20","s":"a3","v":3},{"r":"u20","s":"b1","v":11},{"r":"u20","s":"b2","v":8},{"r":"u20","s":"b3","v":7},
  {"r":"u21","s":"a1","v":2},{"r":"u21","s":"a2","v":3},{"r":"u21","s":"a3","v":3},{"r":"u21","s":"b1","v":8},{"r":"u21","s":"b2","v":8},{"r":"u21","s":"b3","v":9},
  {"r":"u22","s":"a1","v":10},{"r":"u22","s":"a2","v":9},{"r":"u22","s":"a3","v":8},{"r":"u22","s":"b1","v":16},{"r":"u22","s":"b2","v":15},{"r":"u22","s":"b3","v":16},
  {"r":"u23","s":"a1","v":4},{"r":"u23","s":"a2","v":4},{"r":"u23","s":"a3","v":3},{"r":"u23","s":"b1","v":10},{"r":"u23","s":"b2","v":9},{"r":"u23","s":"b3","v":9},
  {"r":"u24","s":"a1","v":3},{"r":"u24","s":"a2","v":2},{"r":"u24","s":"a3","v":3},{"r":"u24","s":"b1","v":9},{"r":"u24","s":"b2","v":8},{"r":"u24","s":"b3","v":10},
  {"r":"u25","s":"a1","v":2},{"r":"u25","s":"a2","v":1},{"r":"u25","s":"a3","v":3},{"r":"u25","s":"b1","v":8},{"r":"u25","s":"b2","v":9},{"r":"u25","s":"b3","v":8},
  {"r":"u26","s":"a1","v":2},{"r":"u26","s":"a2","v":2},{"r":"u26","s":"a3","v":2},{"r":"u26","s":"b1","v":11},{"r":"u26","s":"b2","v":8},{"r":"u26","s":"b3","v":9},
  {"r":"u27","s":"a1","v":5},{"r":"u27","s":"a2","v":5},{"r":"u27","s":"a3","v":4},{"r":"u27","s":"b1","v":9},{"r":"u27","s":"b2","v":9},{"r":"u27","s":"b3","v":12},
  {"r":"u28","s":"a1","v":6},{"r":"u28","s":"a2","v":6},{"r":"u28","s":"a3","v":7},{"r":"u28","s":"b1","v":10},{"r":"u28","s":"b2","v":10},{"r":"u28","s":"b3","v":11},
  {"r":"u29","s":"a1","v":3},{"r":"u29","s":"a2","v":3},{"r":"u29","s":"a3","v":1},{"r":"u29","s":"b1","v":10},{"r":"u29","s":"b2","v":9},{"r":"u29","s":"b3","v":8},
  {"r":"u30","s":"a1","v":3},{"r":"u30","s":"a2","v":2},{"r":"u30","s":"a3","v":1},{"r":"u30","s":"b1","v":12},{"r":"u30","s":"b2","v":9},{"r":"u30","s":"b3","v":10},
  {"r":"u31","s":"a1","v":2},{"r":"u31","s":"a2","v":2},{"r":"u31","s":"a3","v":0},{"r":"u31","s":"b1","v":10},{"r":"u31","s":"b2","v":9},{"r":"u31","s":"b3","v":9},
  {"r":"d01","s":"a1","v":15},{"r":"d01","s":"a2","v":15},{"r":"d01","s":"a3","v":16},{"r":"d01","s":"b1","v":12},{"r":"d01","s":"b2","v":12},{"r":"d01","s":"b3","v":12},
  {"r":"d02","s":"a1","v":13},{"r":"d02","s":"a2","v":12},{"r":"d02","s":"a3","v":14},{"r":"d02","s":"b1","v":9},{"r":"d02","s":"b2","v":9},{"r":"d02","s":"b3","v":9},
  {"r":"d03","s":"a1","v":12},{"r":"d03","s":"a2","v":12},{"r":"d03","s":"a3","v":12},{"r":"d03","s":"b1","v":8},{"r":"d03","s":"b2","v":8},{"r":"d03","s":"b3","v":8},
  {"r":"d04","s":"a1","v":15},{"r":"d04","s":"a2","v":13},{"r":"d04","s":"a3","v":12},{"r":"d04","s":"b1","v":9},{"r":"d04","s":"b2","v":7},{"r":"d04","s":"b3","v":8},
  {"r":"d05","s":"a1","v":11},{"r":"d05","s":"a2","v":11},{"r":"d05","s":"a3","v":7},{"r":"d05","s":"b1","v":4},{"r":"d05","s":"b2","v":3},{"r":"d05","s":"b3","v":3},
  {"r":"d06","s":"a1","v":7},{"r":"d06","s":"a2","v":6},{"r":"d06","s":"a3","v":6},{"r":"d06","s":"b1","v":3},{"r":"d06","s":"b2","v":0},{"r":"d06","s":"b3","v":2}
 ]
},
"resolve": {"scale": {"color": "independent", "fill": "independent"}},
"spacing": 3,
"vconcat": [
 {"hconcat": [
  {"width": 24, "height": 186, "data": {"values": []}, "mark": "point", "encoding": {}, "view": {"stroke": null}},
  {"hconcat": [
  {"width": 232, "height": 186,
   "title": {"text": "A", "frame": "group", "dx": -23, "offset": 0, "dy": 7},
   "view": {"stroke": "#a6a6a6"},
   "data": {"name": "volA"},
   "layer": [
    {"mark": {"type": "circle", "size": 14, "opacity": 0.8},
     "encoding": {
      "x": {"field": "x", "type": "quantitative", "title": "log₂(FoldChange)", "scale": {"domain": [-11.4, 16.4], "nice": false, "zero": false},
            "axis": {"values": [-10,-7.5,-5,-2.5,0,2.5,5,7.5,10,12.5,15], "labelOverlap": false, "labelExpr": "datum.value % 5 === 0 ? datum.label : ''", "tickOpacity": {"condition": {"test": "datum.value % 5 !== 0", "value": 0}, "value": 1}, "gridColor": {"condition": {"test": "datum.value % 5 !== 0", "value": "#f0f0f0"}, "value": "#e2e2e2"}, "tickSize": 2.5, "labelPadding": 1.5, "titlePadding": 2}},
      "y": {"field": "y", "type": "quantitative", "title": "−log10(padj)", "scale": {"domain": [-7, 37], "nice": false, "zero": false},
            "axis": {"values": [0,5,10,15,20,25,30,35], "labelOverlap": false, "labelExpr": "datum.value % 10 === 0 ? datum.label : ''", "tickOpacity": {"condition": {"test": "datum.value % 10 !== 0", "value": 0}, "value": 1}, "gridColor": {"condition": {"test": "datum.value % 10 !== 0", "value": "#f0f0f0"}, "value": "#e2e2e2"}, "tickSize": 2.5, "labelPadding": 1.5, "titlePadding": 1}},
      "color": {"field": "g", "type": "nominal", "scale": {"domain": ["d","n","u"], "range": ["#5aa9de","#b1a6db","#232257"]}, "legend": null}
     }},
    {"data": {"values": [{"x": -1}, {"x": 1}]}, "mark": {"type": "rule", "color": "#2e3289", "strokeWidth": 1.5}, "encoding": {"x": {"field": "x", "type": "quantitative", "title": "log₂(FoldChange)"}}},
    {"data": {"values": [{"y": 6}]}, "mark": {"type": "rule", "color": "#c0272d", "strokeWidth": 1.5}, "encoding": {"y": {"field": "y", "type": "quantitative", "title": "−log10(padj)"}}}
   ]},
  {"width": 232, "height": 186,
   "title": {"text": "B", "frame": "group", "dx": -86, "offset": 0, "dy": 7},
   "view": {"stroke": "#a6a6a6"},
   "data": {"name": "volB"},
   "layer": [
    {"mark": {"type": "circle", "size": 14, "opacity": 0.8},
     "encoding": {
      "x": {"field": "x", "type": "quantitative", "title": "log₂(FoldChange)", "scale": {"domain": [-11.4, 16.4], "nice": false, "zero": false},
            "axis": {"values": [-10,-7.5,-5,-2.5,0,2.5,5,7.5,10,12.5,15], "labelOverlap": false, "labelExpr": "datum.value % 5 === 0 ? datum.label : ''", "tickOpacity": {"condition": {"test": "datum.value % 5 !== 0", "value": 0}, "value": 1}, "gridColor": {"condition": {"test": "datum.value % 5 !== 0", "value": "#f0f0f0"}, "value": "#e2e2e2"}, "tickSize": 2.5, "labelPadding": 1.5, "titlePadding": 2}},
      "y": {"field": "y", "type": "quantitative", "title": "−log10(padj)", "scale": {"domain": [-7, 37], "nice": false, "zero": false},
            "axis": {"values": [0,5,10,15,20,25,30,35], "labelOverlap": false, "labelExpr": "datum.value % 10 === 0 ? datum.label : ''", "tickOpacity": {"condition": {"test": "datum.value % 10 !== 0", "value": 0}, "value": 1}, "gridColor": {"condition": {"test": "datum.value % 10 !== 0", "value": "#f0f0f0"}, "value": "#e2e2e2"}, "tickSize": 2.5, "labelPadding": 1.5, "titlePadding": 1}},
      "color": {"field": "g", "type": "nominal", "scale": {"domain": ["d","n","u"], "range": ["#5aa9de","#b1a6db","#232257"]},
                "legend": {"title": "Differential Expression", "orient": "right", "offset": 5, "padding": 4, "labelExpr": "datum.label == 'd' ? 'Significantly downregulated' : datum.label == 'n' ? 'No significance' : 'Significantly upregulated'", "symbolType": "circle", "symbolSize": 50, "symbolOpacity": 1, "titleFontSize": 8.5, "labelFontSize": 8.5, "rowPadding": 5.5, "titlePadding": 6}}
     }},
    {"data": {"values": [{"x": -1}, {"x": 1}]}, "mark": {"type": "rule", "color": "#2e3289", "strokeWidth": 1.5}, "encoding": {"x": {"field": "x", "type": "quantitative", "title": "log₂(FoldChange)"}}},
    {"data": {"values": [{"y": 6}]}, "mark": {"type": "rule", "color": "#c0272d", "strokeWidth": 1.5}, "encoding": {"y": {"field": "y", "type": "quantitative", "title": "−log10(padj)"}}}
   ]}
  ], "spacing": 64, "bounds": "flush", "resolve": {"scale": {"color": "independent"}}}
 ], "spacing": 0, "bounds": "flush", "resolve": {"scale": {"color": "independent"}}},
 {"hconcat": [
  {"width": 325, "height": 399,
   "title": {"text": "C", "frame": "group", "dx": 1, "offset": 5},
   "view": {"stroke": "#8a8a8a"},
   "layer": [
    {"data": {"name": "hC"}, "mark": {"type": "rect"},
     "encoding": {
      "x": {"field": "s", "type": "nominal", "axis": null, "scale": {"domain": ["a1","a2","a3","b1","b2","b3"], "range": [245.7, 300.3], "paddingInner": 0, "paddingOuter": 0}},
      "y": {"field": "r", "type": "nominal", "axis": null, "scale": {"domain": ["u01","u02","u03","u04","u05","u06","u07","u08","u09","u10","u11","u12","u13","u14","u15","u16","u17","u18","u19","u20","u21","u22","u23","u24","u25","u26","u27","u28","u29","u30","u31","u32","u33","ub","g1","d01","d02","d03","d04","d05","d06","d07","d08","db"], "paddingInner": 0, "paddingOuter": 0.1667, "align": 0.667}},
      "color": {"field": "v", "type": "quantitative", "scale": {"domain": [0, 8.45, 16.9], "range": ["#ffffff", "#8d91bb", "#1e2a5b"]}, "legend": null}
     }},
    {"data": {"values": [{"b": "up"}]}, "mark": {"type": "rect", "fill": "transparent", "stroke": "#9a9a9a", "strokeWidth": 1},
     "encoding": {"x": {"datum": "a1", "type": "nominal", "bandPosition": 0}, "x2": {"datum": "b3", "bandPosition": 1}, "y": {"datum": "u01", "type": "nominal", "bandPosition": 0}, "y2": {"datum": "u33", "bandPosition": 1}}},
    {"data": {"values": [{"b": "down"}]}, "mark": {"type": "rect", "fill": "transparent", "stroke": "#9a9a9a", "strokeWidth": 1},
     "encoding": {"x": {"datum": "a1", "type": "nominal", "bandPosition": 0}, "x2": {"datum": "b3", "bandPosition": 1}, "y": {"datum": "d01", "type": "nominal", "bandPosition": 0}, "y2": {"datum": "d08", "bandPosition": 1}}},
    {"data": {"name": "bars"}, "mark": {"type": "tick", "orient": "horizontal", "thickness": 4, "size": 9.2, "opacity": 1, "yOffset": 2},
     "encoding": {"x": {"field": "s", "type": "nominal"}, "y": {"field": "r", "type": "nominal", "bandPosition": 0},
      "fill": {"field": "c", "type": "nominal", "scale": {"domain": ["BHI", "Butyrate"], "range": ["#e08a2c", "#3f8c73"]}, "legend": null}}},
    {"data": {"name": "lC"}, "mark": {"type": "tick", "orient": "horizontal", "size": 3.5, "thickness": 0.8, "color": "#333", "opacity": 1, "xOffset": -1.75},
     "encoding": {"x": {"datum": "a1", "type": "nominal", "bandPosition": 0}, "y": {"field": "r", "type": "nominal"}}},
    {"data": {"name": "lC"}, "mark": {"type": "text", "align": "right", "baseline": "middle", "fontSize": 8.5, "color": "#3a3a3a", "xOffset": -7.5},
     "encoding": {"x": {"datum": "a1", "type": "nominal", "bandPosition": 0}, "y": {"field": "r", "type": "nominal"}, "text": {"field": "p"}}},
    {"data": {"values": [{"t": "UPREGULATED"}]}, "mark": {"type": "text", "angle": 270, "align": "center", "baseline": "middle", "fontSize": 10, "fontWeight": "bold", "color": "#1a1a1a", "xOffset": -235},
     "encoding": {"x": {"datum": "a1", "type": "nominal", "bandPosition": 0}, "y": {"datum": "u17", "type": "nominal"}, "text": {"field": "t"}}},
    {"data": {"values": [{"t": "DOWNREGULATED"}]}, "mark": {"type": "text", "angle": 270, "align": "center", "baseline": "middle", "fontSize": 10, "fontWeight": "bold", "color": "#1a1a1a", "xOffset": -235},
     "encoding": {"x": {"datum": "a1", "type": "nominal", "bandPosition": 0}, "y": {"datum": "d04", "type": "nominal"}, "text": {"field": "t"}}}
   ]},
  {"width": 285, "height": 402,
   "title": {"text": "D", "frame": "group", "dx": 3, "offset": 5},
   "view": {"stroke": "#8a8a8a"},
   "layer": [
    {"data": {"name": "hD"}, "mark": {"type": "rect"},
     "encoding": {
      "x": {"field": "s", "type": "nominal", "axis": null, "scale": {"domain": ["a1","a2","a3","b1","b2","b3"], "range": [224.7, 280.7], "paddingInner": 0, "paddingOuter": 0}},
      "y": {"field": "r", "type": "nominal", "axis": null, "scale": {"domain": ["u01","u02","u03","u04","u05","u06","u07","u08","u09","u10","u11","u12","u13","u14","u15","u16","u17","u18","u19","u20","u21","u22","u23","u24","u25","u26","u27","u28","u29","u30","u31","ub","g1","g2","d01","d02","d03","d04","d05","d06","db"], "paddingInner": 0, "paddingOuter": 1.418, "align": 0.058}},
      "color": {"field": "v", "type": "quantitative", "scale": {"domain": [0, 8.45, 16.9], "range": ["#ffffff", "#8d91bb", "#1e2a5b"]},
                "legend": {"title": ["relative", "abundance"], "orient": "right", "offset": 6, "padding": 1, "gradientLength": 110, "gradientThickness": 22, "values": [0, 4, 8, 12, 16], "titleFontSize": 9, "titleLineHeight": 10, "labelFontSize": 9, "titlePadding": 6, "gradientStrokeWidth": 0, "labelOffset": 3}}
     }},
    {"data": {"values": [{"b": "up"}]}, "mark": {"type": "rect", "fill": "transparent", "stroke": "#9a9a9a", "strokeWidth": 1},
     "encoding": {"x": {"datum": "a1", "type": "nominal", "bandPosition": 0}, "x2": {"datum": "b3", "bandPosition": 1}, "y": {"datum": "u01", "type": "nominal", "bandPosition": 0}, "y2": {"datum": "u31", "bandPosition": 1}}},
    {"data": {"values": [{"b": "down"}]}, "mark": {"type": "rect", "fill": "transparent", "stroke": "#9a9a9a", "strokeWidth": 1},
     "encoding": {"x": {"datum": "a1", "type": "nominal", "bandPosition": 0}, "x2": {"datum": "b3", "bandPosition": 1}, "y": {"datum": "d01", "type": "nominal", "bandPosition": 0}, "y2": {"datum": "d06", "bandPosition": 1}}},
    {"data": {"name": "bars"}, "mark": {"type": "tick", "orient": "horizontal", "thickness": 4, "size": 9.5, "opacity": 1, "yOffset": 2},
     "encoding": {"x": {"field": "s", "type": "nominal"}, "y": {"field": "r", "type": "nominal", "bandPosition": 0},
      "fill": {"field": "c", "type": "nominal", "scale": {"domain": ["BHI", "Butyrate"], "range": ["#e08a2c", "#3f8c73"]},
               "legend": {"title": " ", "titleFontSize": 5, "titlePadding": 3, "orient": "right", "offset": 6, "padding": 1, "symbolType": "square", "symbolSize": 440, "symbolStrokeWidth": 0, "symbolOpacity": 1, "labelFontSize": 8, "labelOffset": 7, "rowPadding": 2}}}},
    {"data": {"name": "lD"}, "mark": {"type": "tick", "orient": "horizontal", "size": 3.5, "thickness": 0.8, "color": "#333", "opacity": 1, "xOffset": -1.75},
     "encoding": {"x": {"datum": "a1", "type": "nominal", "bandPosition": 0}, "y": {"field": "r", "type": "nominal"}}},
    {"data": {"name": "lD"}, "mark": {"type": "text", "align": "right", "baseline": "middle", "fontSize": 8.5, "color": "#3a3a3a", "xOffset": -7.5},
     "encoding": {"x": {"datum": "a1", "type": "nominal", "bandPosition": 0}, "y": {"field": "r", "type": "nominal"}, "text": {"field": "p"}}},
    {"data": {"values": [{"t": "UPREGULATED"}]}, "mark": {"type": "text", "angle": 270, "align": "center", "baseline": "middle", "fontSize": 10, "fontWeight": "bold", "color": "#1a1a1a", "xOffset": -214},
     "encoding": {"x": {"datum": "a1", "type": "nominal", "bandPosition": 0}, "y": {"datum": "u16", "type": "nominal"}, "text": {"field": "t"}}},
    {"data": {"values": [{"t": "DOWNREGULATED"}]}, "mark": {"type": "text", "angle": 270, "align": "center", "baseline": "middle", "fontSize": 10, "fontWeight": "bold", "color": "#1a1a1a", "xOffset": -214},
     "encoding": {"x": {"datum": "a1", "type": "nominal", "bandPosition": 0}, "y": {"datum": "d04", "type": "nominal"}, "text": {"field": "t"}}}
   ]}
 ], "spacing": 3, "bounds": "flush", "resolve": {"scale": {"color": "independent", "fill": "independent"}}}
]
}
